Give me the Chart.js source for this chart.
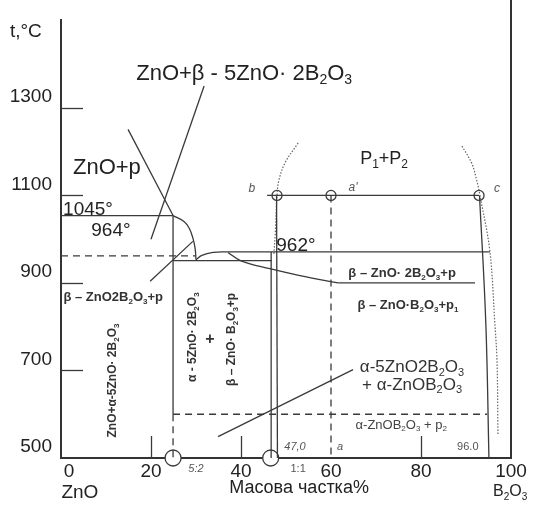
<!DOCTYPE html>
<html>
<head>
<meta charset="utf-8">
<script src="https://cdn.jsdelivr.net/npm/chart.js@4.4.0/dist/chart.umd.min.js"></script>
<style>
  html, body { margin: 0; padding: 0; background: #fff; }
  canvas { display: block; }
</style>
</head>
<body>
<canvas id="diagram" width="534" height="508"></canvas>
<script>
// axis ticks
const xTickValues = [0, 20, 40, 60, 80, 100];
const yTickValues = [500, 700, 900, 1100, 1300];

// phase boundaries, points are [wt% B2O3, t °C]
const line1045 = [[0, 1054], [24.9, 1054]];
const zno52Solid = [[24.9, 1054], [24.9, 600]];
const zno52Dashed = [[24.9, 600], [24.9, 500]];
const eutectic962Dashed = [[0, 962], [29.8, 962]];
const liquidusArc = [[24.9, 1054], [27.4, 1040], [28.5, 1025], [29.3, 1003], [29.8, 979], [30.0, 953]];
const liquidusHill = [[30.0, 953], [31.3, 963], [33.8, 969.7], [36.9, 971]];
const line962 = [[36.9, 971], [95.3, 971]];
const line951 = [[24.9, 951], [46.8, 951]];
const liquidusFall = [[37.1, 969.7], [40.0, 950.7], [46.4, 932.7], [53.1, 917], [61.6, 900]];
const line900 = [[61.6, 900], [92.0, 900]];
const line600Dashed = [[24.9, 600], [94.7, 600]];
const zno11Left = [[46.7, 971], [46.7, 500]];
const zno11Right = [[47.9, 1100], [48.1, 500]];
const line1100 = [[45.8, 1100], [92.9, 1100]];
const aDashed = [[60, 1100], [60, 500]];
const rightSolidus = [[93.0, 1100], [94.4, 809], [95.1, 500]];
const leftDome = [[52.7, 1220], [49.8, 1175], [48.4, 1134], [48.0, 1100], [47.6, 1011], [47.3, 966]];
const rightDome = [[89.1, 1213], [91.3, 1173], [92.4, 1134], [93.1, 1100], [95.3, 973], [96.4, 809], [96.9, 720], [97.1, 552]];

// leader lines from the labels
const leaderA = [[31.8, 1350], [20.0, 1000]];
const leaderB = [[14.9, 1251], [24.9, 1054]];
const leaderC = [[19.8, 904], [29.3, 995]];
const leaderD = [[34.9, 549], [64.9, 702]];

// marked points
const bigCircles = [[24.9, 500], [46.6, 500]];
const smallCircles = [[48.0, 1100], [60.0, 1100], [92.9, 1100]];

const pts = (a) => a.map(([x, y]) => ({ x, y }));

const INK = "#3a3a3a";
function seg(data, extra) {
  return Object.assign({
    data: pts(data),
    showLine: true,
    borderColor: INK,
    borderWidth: 1.3,
    pointRadius: 0,
    tension: 0,
    fill: false,
    clip: false,
  }, extra || {});
}
const dashed = { borderDash: [7, 5] };
const dotted = { borderDash: [1.5, 1.6], borderColor: "#666", borderWidth: 1.2, tension: 0.35 };
const curve = { tension: 0.4 };

// labels: text, x, t, size, style, colour, rotation
const FAM = '"Liberation Sans", Arial, sans-serif';
const labels = [
  ["ZnO+β - 5ZnO· 2B_2O_3", 40.7, 1383, 22, "", "#222", 0],
  ["ZnO+p", 10.2, 1168, 22, "", "#222", 0],
  ["1045°", 6.0, 1072, 19, "", "#222", 0],
  ["964°", 11.1, 1022, 19, "", "#222", 0],
  ["962°", 52.2, 989, 19, "", "#222", 0],
  ["P_1+P_2", 71.8, 1186, 18, "", "#222", 0],
  ["b", 42.4, 1117, 12, "italic ", "#555", 0],
  ["a'", 64.9, 1121, 12, "italic ", "#555", 0],
  ["c", 96.9, 1117, 12, "italic ", "#555", 0],
  ["β – ZnO· 2B_2O_3+p", 75.8, 924, 13, "bold ", "#333", 0],
  ["β – ZnO·B_2O_3+p_1", 77.1, 852, 13, "bold ", "#333", 0],
  ["α-5ZnO2B_2O_3", 78.0, 711, 17, "", "#333", 0],
  ["+ α-ZnOB_2O_3", 78.0, 670, 17, "", "#333", 0],
  ["α-ZnOB_2O_3 + p_2", 75.6, 578, 13, "", "#444", 0],
  ["47,0", 52.0, 527, 11, "italic ", "#555", 0],
  ["a", 62.0, 527, 11, "italic ", "#555", 0],
  ["96.0", 90.4, 527, 11, "", "#555", 0],
  ["5:2", 30.0, 477, 11, "italic ", "#555", 0],
  ["1:1", 52.7, 477, 11, "", "#555", 0],
  ["β – ZnO2B_2O_3+p", 11.6, 870, 13, "bold ", "#333", 0],
  ["ZnO+α-5ZnO· 2B_2O_3", 11.3, 677, 12, "bold ", "#333", -90],
  ["α - 5ZnO· 2B_2O_3", 29.1, 776, 12, "bold ", "#333", -90],
  ["+", 33.1, 774, 16, "bold ", "#333", 0],
  ["β – ZnO· B_2O_3+p", 37.8, 771, 12, "bold ", "#333", -90],
  ["t,°C", -7.8, 1478, 19, "", "#222", 0],
  ["ZnO", 4.2, 424, 19, "", "#222", 0],
  ["Масова частка%", 52.9, 435, 18, "", "#222", 0],
  ["B_2O_3", 99.8, 426, 16, "", "#222", 0],
];

function drawRich(ctx, text, x, y, size, style) {
  const parts = [];
  for (let i = 0; i < text.length; i++) {
    if (text[i] === "_") { parts.push({ s: text[i + 1], sub: true }); i++; }
    else if (parts.length && !parts[parts.length - 1].sub) parts[parts.length - 1].s += text[i];
    else parts.push({ s: text[i], sub: false });
  }
  const mainF = style + size + "px " + FAM;
  const subF = style + Math.round(size * 0.65) + "px " + FAM;
  let w = 0;
  parts.forEach((p) => { ctx.font = p.sub ? subF : mainF; p.w = ctx.measureText(p.s).width; w += p.w; });
  let cx = x - w / 2;
  ctx.textAlign = "left";
  ctx.textBaseline = "alphabetic";
  parts.forEach((p) => {
    ctx.font = p.sub ? subF : mainF;
    ctx.fillText(p.s, cx, y + (p.sub ? size * 0.22 : 0));
    cx += p.w;
  });
}

const framePlugin = {
  id: "frame",
  afterDraw(chart) {
    const { ctx, chartArea, scales } = chart;
    const xs = scales.x, ys = scales.y;
    ctx.save();
    // right border runs up to the top edge
    ctx.strokeStyle = "#333";
    ctx.lineWidth = 2;
    ctx.beginPath();
    ctx.moveTo(xs.getPixelForValue(100), 0);
    ctx.lineTo(xs.getPixelForValue(100), chartArea.bottom);
    ctx.stroke();
    // inner tick marks
    ctx.lineWidth = 1.3;
    ctx.strokeStyle = INK;
    yTickValues.slice(1).forEach((v) => {
      const py = Math.round(ys.getPixelForValue(v)) + 0.5;
      ctx.beginPath();
      ctx.moveTo(chartArea.left, py);
      ctx.lineTo(chartArea.left + 22, py);
      ctx.stroke();
    });
    [20, 40, 80].forEach((v) => {
      const px = Math.round(xs.getPixelForValue(v)) + 0.5;
      ctx.beginPath();
      ctx.moveTo(px, chartArea.bottom);
      ctx.lineTo(px, chartArea.bottom - 22);
      ctx.stroke();
    });
    // texts
    labels.forEach(([t, x, y, size, style, color, rot]) => {
      const px = xs.getPixelForValue(x), py = ys.getPixelForValue(y);
      ctx.fillStyle = color;
      ctx.save();
      ctx.translate(px, py);
      ctx.rotate((rot * Math.PI) / 180);
      drawRich(ctx, t, 0, size * 0.36, size, style);
      ctx.restore();
    });
    ctx.restore();
  },
};

new Chart(document.getElementById("diagram"), {
  type: "scatter",
  data: {
    datasets: [
      seg(line1045),
      seg(zno52Solid),
      seg(zno52Dashed, dashed),
      seg(eutectic962Dashed, dashed),
      seg(liquidusArc, curve),
      seg(liquidusHill, curve),
      seg(line962),
      seg(line951),
      seg(liquidusFall, curve),
      seg(line900),
      seg(line600Dashed, dashed),
      seg(zno11Left),
      seg(zno11Right),
      seg(line1100),
      seg(aDashed, dashed),
      seg(rightSolidus, curve),
      seg(leftDome, dotted),
      seg(rightDome, dotted),
      seg(leaderA),
      seg(leaderB),
      seg(leaderC),
      seg(leaderD),
      seg(bigCircles, {
        showLine: false, pointRadius: 8, pointBackgroundColor: "#fff",
        pointBorderColor: INK, pointBorderWidth: 1.3,
      }),
      seg(smallCircles, {
        showLine: false, pointRadius: 5, pointBackgroundColor: "#fff",
        pointBorderColor: INK, pointBorderWidth: 1.3,
      }),
    ],
  },
  options: {
    responsive: false,
    animation: false,
    layout: { padding: { top: 12, right: 23, left: 0, bottom: 0 } },
    plugins: { legend: { display: false }, tooltip: { enabled: false } },
    scales: {
      x: {
        type: "linear",
        min: 0,
        max: 100,
        afterFit: (s) => { s.height = 50; },
        afterBuildTicks: (s) => { s.ticks = xTickValues.map((v) => ({ value: v })); },
        ticks: {
          color: "#222",
          font: { family: FAM, size: 19 },
          padding: 2,
          maxRotation: 0,
          callback: (v) => (v === 0 ? "   0" : String(v)),
        },
        grid: { display: false, drawTicks: false },
        border: { display: true, color: "#333", width: 2 },
      },
      y: {
        type: "linear",
        min: 500,
        max: 1500,
        afterFit: (s) => { s.width = 61; },
        afterBuildTicks: (s) => { s.ticks = yTickValues.map((v) => ({ value: v })); },
        ticks: {
          color: "#222",
          font: { family: FAM, size: 19 },
          padding: 9,
          labelOffset: -11,
          callback: (v) => String(v),
        },
        grid: { display: false, drawTicks: false },
        border: { display: true, color: "#333", width: 2 },
      },
    },
  },
  plugins: [framePlugin],
});
</script>
</body>
</html>
